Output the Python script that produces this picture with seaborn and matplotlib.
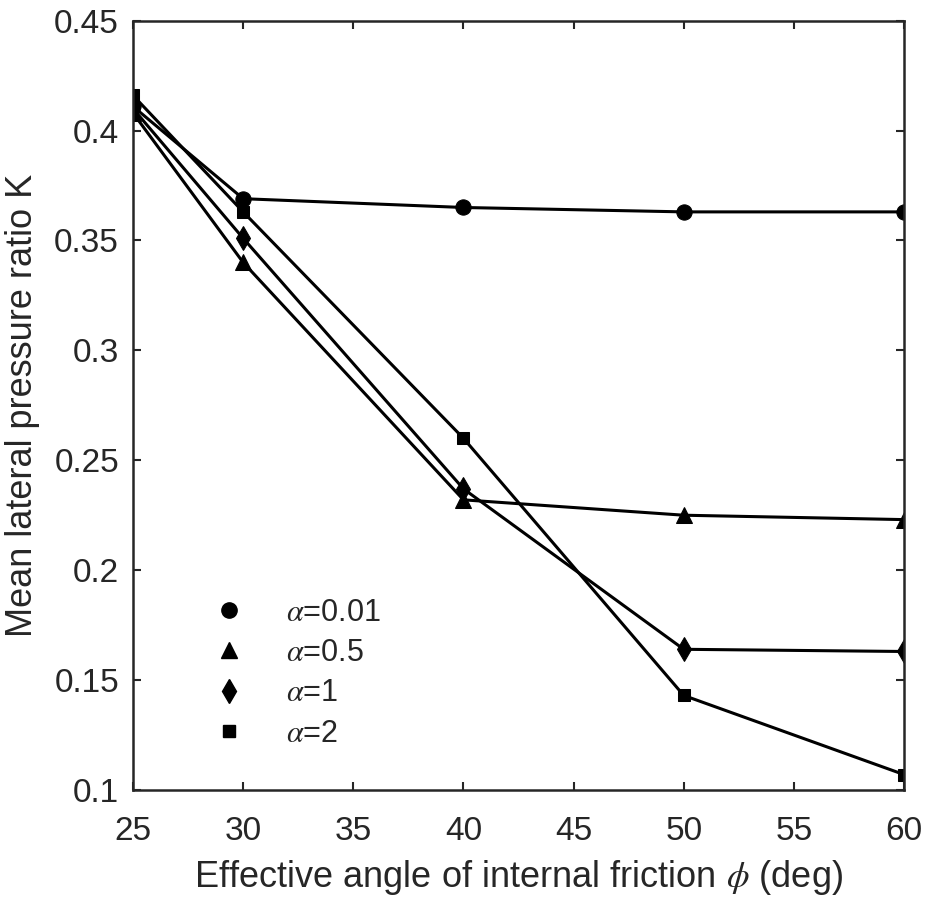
import numpy as np
import pandas as pd
import seaborn as sns
import matplotlib
matplotlib.use("Agg")
import matplotlib.pyplot as plt
from matplotlib.lines import Line2D

# data
phi = [25, 30, 40, 50, 60]
k_a001 = [0.411, 0.369, 0.365, 0.363, 0.363]
k_a05 = [0.408, 0.340, 0.232, 0.225, 0.223]
k_a1 = [0.410, 0.351, 0.237, 0.164, 0.163]
k_a2 = [0.416, 0.363, 0.260, 0.143, 0.107]
series_labels = [r"$\alpha$=0.01", r"$\alpha$=0.5", r"$\alpha$=1", r"$\alpha$=2"]
series_markers = ["o", "^", "d", "s"]
series_sizes = [11, 11, 12, 8]

y_ticks = [0.1, 0.15, 0.2, 0.25, 0.3, 0.35, 0.4, 0.45]
y_ticklabels = ["0.1", "0.15", "0.2", "0.25", "0.3", "0.35", "0.4", "0.45"]
x_ticks = [25, 30, 35, 40, 45, 50, 55, 60]


def build_df():
    frames = []
    for lab, vals in zip(series_labels, [k_a001, k_a05, k_a1, k_a2]):
        frames.append(pd.DataFrame({"phi": phi, "K": vals, "series": lab}))
    return pd.concat(frames, ignore_index=True)


def plot_k(df):
    sns.set_theme(style="ticks")
    plt.rcParams["font.family"] = ["Liberation Sans", "DejaVu Sans"]
    plt.rcParams["mathtext.fontset"] = "stix"
    txt = "#262626"

    fig = plt.figure(figsize=(9.32, 8.98), dpi=100)
    ax = fig.add_axes([0.1427, 0.1203, 0.8273, 0.8567])

    for lab, mk, ms in zip(series_labels, series_markers, series_sizes):
        sub = df[df["series"] == lab]
        sns.lineplot(data=sub, x="phi", y="K", ax=ax, color="black",
                     linewidth=2.2, marker=mk, markersize=ms,
                     markeredgecolor="black", markerfacecolor="black",
                     legend=False)

    ax.set_xlim(25, 60)
    ax.set_ylim(0.1, 0.45)
    ax.set_xticks(x_ticks)
    ax.set_xticklabels([str(v) for v in x_ticks])
    ax.set_yticks(y_ticks)
    ax.set_yticklabels(y_ticklabels)

    for s in ax.spines.values():
        s.set_visible(True)
        s.set_linewidth(1.8)
        s.set_color(txt)
    ax.tick_params(direction="in", length=6, width=1.5, colors=txt,
                   labelsize=24, top=True, right=True)
    ax.tick_params(axis="x", pad=19)
    ax.tick_params(axis="y", pad=10)

    ax.set_xlabel(r"Effective angle of internal friction $\phi$ (deg)",
                  fontsize=26, color=txt, labelpad=8)
    ax.set_ylabel("Mean lateral pressure ratio K", fontsize=26, color=txt,
                  labelpad=10)

    handles = [Line2D([], [], linestyle="none", marker=mk, markersize=ms,
                      color="black") for mk, ms in zip(series_markers, series_sizes)]
    leg = ax.legend(handles, series_labels, loc="upper left",
                    bbox_to_anchor=(0.105, 0.250), frameon=False,
                    fontsize=22, handlelength=1.0, handletextpad=1.35,
                    labelspacing=0.34, borderaxespad=0, borderpad=0)
    for t in leg.get_texts():
        t.set_color(txt)

    fig.savefig("out.png", dpi=100)


if __name__ == "__main__":
    df = build_df()
    plot_k(df)
